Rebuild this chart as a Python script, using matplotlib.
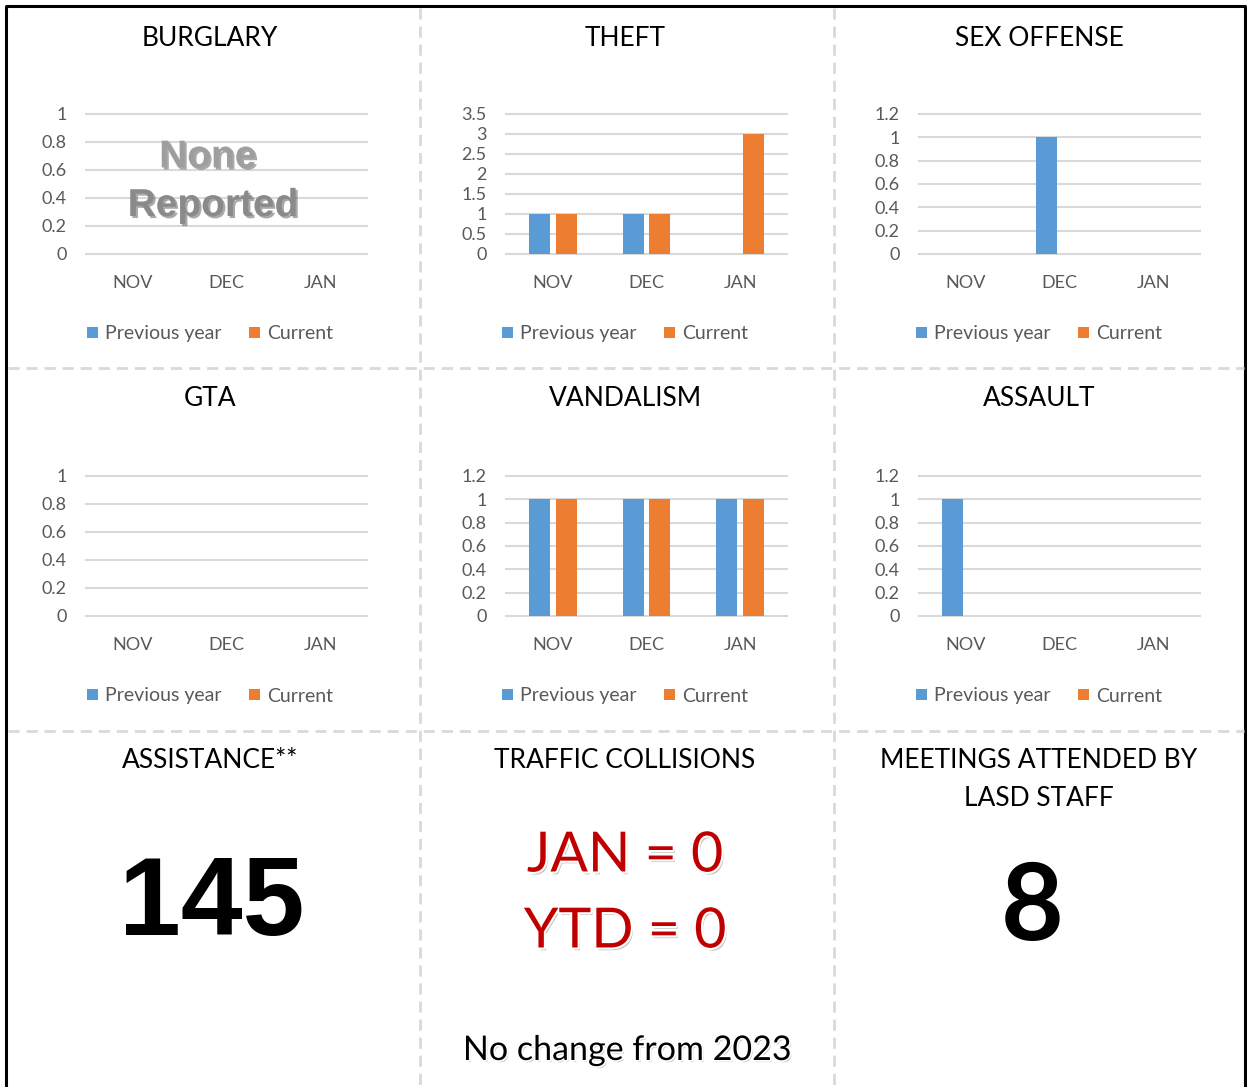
import matplotlib
matplotlib.use("Agg")
import matplotlib.pyplot as plt
import matplotlib.patheffects as pe
import numpy as np

W, H = 1247, 1087

months = ["NOV", "DEC", "JAN"]
series_names = ["Previous year", "Current"]
burglary_prev = [0, 0, 0]
burglary_curr = [0, 0, 0]
theft_prev = [1, 1, 0]
theft_curr = [1, 1, 3]
sex_prev = [0, 1, 0]
sex_curr = [0, 0, 0]
gta_prev = [0, 0, 0]
gta_curr = [0, 0, 0]
vandalism_prev = [1, 1, 1]
vandalism_curr = [1, 1, 1]
assault_prev = [1, 0, 0]
assault_curr = [0, 0, 0]

assistance_total = 145
meetings_total = 8
traffic_jan = 0
traffic_ytd = 0

BLUE = "#5B9BD5"
ORANGE = "#ED7D31"
GRID = "#D9D9D9"
TICK = "#595959"
FONT = "Lato"
TITLE_FS = 19

plt.rcParams["font.family"] = [FONT, "DejaVu Sans"]

fig = plt.figure(figsize=(W / 100, H / 100), dpi=100)
fig.patch.set_facecolor("white")

# overlay in pixel coordinates
ov = fig.add_axes([0, 0, 1, 1])
ov.set_xlim(0, W)
ov.set_ylim(H, 0)
ov.axis("off")

# outer border
ov.plot([6, 6], [6, H + 5], color="black", lw=2.2, solid_capstyle="butt")
ov.plot([1245, 1245], [6, H + 5], color="black", lw=2.2, solid_capstyle="butt")
ov.plot([5, 1246], [6, 6], color="black", lw=2.2, solid_capstyle="butt")

# dashed separators
dash = dict(color=GRID, lw=2.0, dashes=(4, 2.5))
for x in (420, 834):
    ov.plot([x, x], [8, H], **dash)
for y in (368, 731):
    ov.plot([8, 1244], [y, y], **dash)


def px_rect(x0, y0, x1, y1):
    return [x0 / W, 1 - y1 / H, (x1 - x0) / W, (y1 - y0) / H]


col_x = [(86, 367), (506, 787), (919, 1200)]
col_center = [210, 625, 1039]
rows = [(114, 254), (476, 616)]

charts = [
    ("BURGLARY", burglary_prev, burglary_curr, 1.0, 0.2, 0, 0),
    ("THEFT", theft_prev, theft_curr, 3.5, 0.5, 0, 1),
    ("SEX OFFENSE", sex_prev, sex_curr, 1.2, 0.2, 0, 2),
    ("GTA", gta_prev, gta_curr, 1.0, 0.2, 1, 0),
    ("VANDALISM", vandalism_prev, vandalism_curr, 1.2, 0.2, 1, 1),
    ("ASSAULT", assault_prev, assault_curr, 1.2, 0.2, 1, 2),
]

title_y = [38, 398]

for title, prev, curr, ymax, step, r, c in charts:
    x0, x1 = col_x[c]
    y0, y1 = rows[r]
    ax = fig.add_axes(px_rect(x0, y0, x1, y1))
    x = np.arange(len(months))
    bw = 0.224
    off = 0.144
    b1 = ax.bar(x - off, prev, bw, color=BLUE, zorder=3, label=series_names[0])
    b2 = ax.bar(x + off, curr, bw, color=ORANGE, zorder=3, label=series_names[1])
    ax.set_xlim(-0.5, 2.5)
    ax.set_ylim(0, ymax)
    ticks = np.round(np.arange(0, ymax + 1e-9, step), 2)
    ax.set_yticks(ticks)
    ax.set_yticklabels([("%g" % t) for t in ticks])
    ax.set_xticks(x)
    ax.set_xticklabels(months)
    for s in ax.spines.values():
        s.set_visible(False)
    ax.yaxis.grid(True, color=GRID, lw=1.5, zorder=0)
    ax.set_axisbelow(True)
    ax.tick_params(axis="both", length=0, labelsize=13, colors=TICK)
    ax.tick_params(axis="y", pad=14)
    ax.tick_params(axis="x", pad=15)
    for gl in ax.get_ygridlines():
        gl.set_clip_on(False)
    ax.patch.set_alpha(0)
    # title
    ov.text(col_center[c], title_y[r], title, ha="center", va="center",
            fontsize=TITLE_FS, color="black", family=FONT)
    # legend
    fig.legend(handles=[b1, b2], labels=series_names, loc="center",
               bbox_to_anchor=(col_center[c] / W, 1 - (y1 + 80) / H),
               ncol=2, frameon=False, fontsize=14, labelcolor=TICK,
               handlelength=0.55, handleheight=0.55, handletextpad=0.35,
               columnspacing=1.45, borderaxespad=0)
    if title == "BURGLARY":
        shadow = [pe.SimplePatchShadow(offset=(1.5, -1.5), shadow_rgbFace="#555555", alpha=0.5),
                  pe.Normal()]
        ax.text(0.80, 0.69, "None", ha="center", va="center", fontsize=28,
                fontweight="bold", color="#9E9E9E", family="Liberation Sans",
                path_effects=shadow, transform=ax.transData, zorder=5)
        ax.text(0.856, 0.343, "Reported", ha="center", va="center", fontsize=28,
                fontweight="bold", color="#8A8A8A", family="Liberation Sans",
                path_effects=shadow, transform=ax.transData, zorder=5)

# bottom row
ov.text(210, 760, "ASSISTANCE**", ha="center", va="center", fontsize=TITLE_FS, family=FONT)
ov.text(625, 760, "TRAFFIC COLLISIONS", ha="center", va="center", fontsize=TITLE_FS, family=FONT)
ov.text(1039, 760, "MEETINGS ATTENDED BY", ha="center", va="center", fontsize=TITLE_FS, family=FONT)
ov.text(1039, 798, "LASD STAFF", ha="center", va="center", fontsize=TITLE_FS, family=FONT)

ov.text(212, 906, str(assistance_total), ha="center", va="center", fontsize=80,
        fontweight="bold", family="Liberation Sans", color="black")
ov.text(1032, 909, str(meetings_total), ha="center", va="center", fontsize=78,
        fontweight="bold", family=FONT, color="black")

red_fx = [pe.SimplePatchShadow(offset=(1.5, -2), shadow_rgbFace="#888888", alpha=0.5),
          pe.Stroke(linewidth=3, foreground="white"), pe.Normal()]
ov.text(625, 856, "JAN = %d" % traffic_jan, ha="center", va="center", fontsize=40,
        color="#C00000", family=FONT, path_effects=red_fx)
ov.text(625, 932, "YTD = %d" % traffic_ytd, ha="center", va="center", fontsize=40,
        color="#C00000", family=FONT, path_effects=red_fx)

dark_fx = [pe.SimplePatchShadow(offset=(1.2, -1.5), shadow_rgbFace="#888888", alpha=0.5),
           pe.Stroke(linewidth=2.5, foreground="white"), pe.Normal()]
ov.text(627, 1050, "No change from 2023", ha="center", va="center", fontsize=24.5,
        color="black", family=FONT, path_effects=dark_fx)

fig.savefig("out.png", dpi=100, facecolor="white")
